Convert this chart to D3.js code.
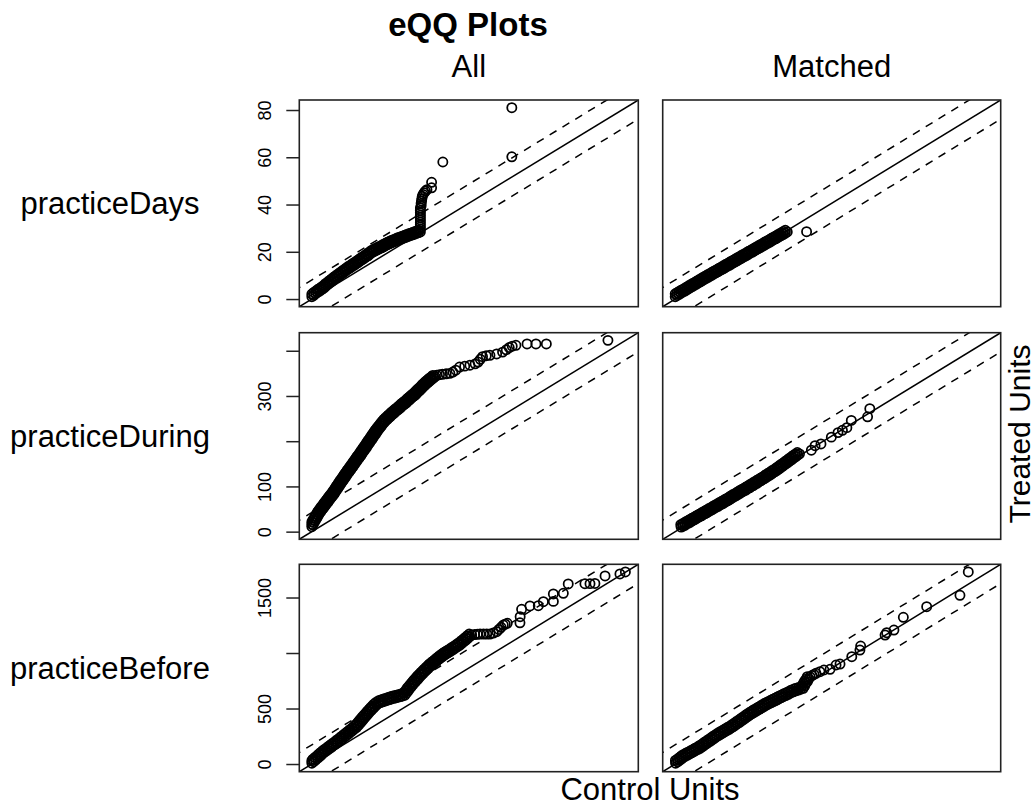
<!DOCTYPE html>
<html>
<head>
    <meta charset="utf-8">
    <title>eQQ Plots</title>
    <script src="https://d3js.org/d3.v7.min.js"></script>
    <style>
        body { margin: 0; background: #fff; }
        text { font-family: "Liberation Sans", Arial, Helvetica, sans-serif; fill: #000; }
    </style>
</head>
<body>
<div id="chart"></div>
<script>
    // [control quantile, treated quantile]
    // (the thick black bands are many overlapping points, so those are listed densely)
    var daysAll = [[0,1],[0.5,1.6],[1,2.3],[1.5,2.9],[2,3.4],[2.5,4],[3,4.5],[3.5,5.3],[4,6],[4.5,6.6],[5,7.3],[5.5,7.9],[6,8.6],[6.5,9.2],[7,9.8],[7.5,10.4],[8,11],[8.5,11.6],[9,12.2],[9.5,12.8],[10,13.3],[10.5,13.9],[11,14.4],[11.5,15],[12,15.5],[12.5,16.1],[13,16.7],[13.5,17.2],[14,17.8],[14.5,18.3],[15,19],[15.5,19.6],[16,20.1],[16.5,20.5],[17,20.9],[17.5,21.3],[18,21.7],[18.5,22.1],[19,22.6],[19.5,23],[20,23.4],[20.5,23.8],[21,24.1],[21.5,24.4],[22,24.8],[22.5,25.1],[23,25.4],[23.5,25.7],[24,26],[24.5,26.3],[25,26.6],[25.5,26.9],[26,27.2],[26.5,27.5],[27,27.8],[27.5,28.1],[28,28.4],
        [0,2.1],[0.5,2.8],[1,3.4],[1.5,4],[2,4.5],[2.5,5.1],[3,5.7],[3.5,6.5],[4,7.1],[4.5,7.8],[5,8.4],[5.5,9.1],[6,9.7],[6.5,10.3],[7,10.9],[7.5,11.5],[8,12.1],[8.5,12.7],[9,13.3],[9.5,13.9],[10,14.4],[10.5,15],[11,15.5],[11.5,16.1],[12,16.6],[12.5,17.2],[13,17.8],[13.5,18.3],[14,18.9],[14.5,19.5],[15,20.1],[15.5,20.7],[16,21.1],[16.5,21.5],[17,21.9],[17.5,22.3],[18,22.7],[18.5,23.2],[19,23.6],[19.5,24],[20,24.4],[20.5,24.8],[21,25.1],[21.5,25.4],[22,25.8],[22.5,26.1],[23,26.4],[23.5,26.7],[24,27],[24.5,27.3],[25,27.6],[25.5,27.9],[26,28.2],[26.5,28.5],[27,28.8],[27.5,29.1],
        [28,29.5],[28,30.5],[28,31.5],[28,32.5],[28,33.5],[28,34.5],[28,35.5],[28,36.5],[28,37.5],[28,38.5],[28.2,39.5],[28.2,40.5],[28.3,41.5],[28.4,42.5],[28.5,43.5],[28.7,44.3],[29,45],[29.3,45.7],[29.7,46.3],[30.9,47.1],[30.9,49.4],[33.8,58],[51.6,60.2],[51.6,81]];
    var daysMatched = [[0,1],[0.5,1.5],[1,2],[1.5,2.5],[2,3],[2.5,3.4],[3,3.9],[3.5,4.4],[4,4.9],[4.5,5.4],[5,5.9],[5.5,6.3],[6,6.8],[6.5,7.3],[7,7.8],[7.5,8.3],[8,8.7],[8.5,9.2],[9,9.7],[9.5,10.1],[10,10.6],[10.5,11.1],[11,11.5],[11.5,12],[12,12.5],[12.5,12.9],[13,13.4],[13.5,13.9],[14,14.3],[14.5,14.8],[15,15.3],[15.5,15.7],[16,16.2],[16.5,16.7],[17,17.1],[17.5,17.6],[18,18.1],[18.5,18.5],[19,19],[19.5,19.5],[20,19.9],[20.5,20.4],[21,20.9],[21.5,21.3],[22,21.8],[22.5,22.3],[23,22.7],[23.5,23.2],[24,23.7],[24.5,24.1],[25,24.6],[25.5,25.1],[26,25.5],[26.5,26],[27,26.5],[27.5,26.9],[28,27.4],[28.5,27.9],[29,28.4],
        [0,2.2],[0.5,2.7],[1,3.2],[1.5,3.7],[2,4.1],[2.5,4.6],[3,5.1],[3.5,5.6],[4,6.1],[4.5,6.6],[5,7],[5.5,7.5],[6,8],[6.5,8.5],[7,9],[7.5,9.4],[8,9.9],[8.5,10.4],[9,10.8],[9.5,11.3],[10,11.8],[10.5,12.2],[11,12.7],[11.5,13.2],[12,13.6],[12.5,14.1],[13,14.6],[13.5,15],[14,15.5],[14.5,16],[15,16.4],[15.5,16.9],[16,17.4],[16.5,17.8],[17,18.3],[17.5,18.8],[18,19.2],[18.5,19.7],[19,20.2],[19.5,20.6],[20,21.1],[20.5,21.6],[21,22],[21.5,22.5],[22,23],[22.5,23.4],[23,23.9],[23.5,24.4],[24,24.8],[24.5,25.3],[25,25.8],[25.5,26.2],[26,26.7],[26.5,27.2],[27,27.6],[27.5,28.1],[28,28.6],[28.5,29.1],
        [34,28.5]];

    var duringAll = [[0,11],[1.5,15],[3,20],[4.5,24],[6,28],[7.5,32],[9,37],[10.5,41],[12,44],[13.5,48],[15,51],[16.5,54],[18,58],[19.5,61],[21,64],[22.5,67],[24,71],[25.5,74],[27,77],[28.5,80],[30,84],[31.5,87],[33,91],[34.5,95],[36,98],[37.5,102],[39,106],[40.5,109],[42,113],[43.5,116],[45,120],[46.5,124],[48,127],[49.5,131],[51,134],[52.5,137],[54,141],[55.5,144],[57,148],[58.5,151],[60,155],[61.5,158],[63,162],[64.5,165],[66,168],[67.5,172],[69,176],[70.5,179],[72,183],[73.5,186],[75,190],[76.5,194],[78,197],[79.5,201],[81,204],[82.5,208],[84,212],[85.5,215],[87,219],[88.5,222],[90,226],[92,230],[94,234],[96,239],[98,242],[100,246],[102,249],[104,252],[106,255],[108,258],[110,261],[112,264],[114,267],[116,269],[118,272],[120,275],[122,278],[124,281],[126,283],[128,286],[130,289],[132,292],[134,295],[136,298],[138,300],[140,303],[142,307],[144,310],[146,313],[148,316],[150,320],[152,323],[154,326],[156,329],[158,332],[160,335],[162,337],[164,340],[166,343],[168,346],
        [0,16],[0,21.5],[1.5,26],[3,30],[4.5,34],[6,38.5],[7.5,43],[9,46.5],[10.5,50],[12,53.5],[13.5,56.5],[15,60],[16.5,63.5],[18,66.5],[19.5,69.5],[21,73],[22.5,76.5],[24,79.5],[25.5,82.5],[27,86],[28.5,89.5],[30,93],[31.5,97],[33,100.5],[34.5,104],[36,108],[37.5,111.5],[39,115],[40.5,118.5],[42,122],[43.5,126],[45,129.5],[46.5,133],[48,136.5],[49.5,139.5],[51,143],[52.5,146.5],[54,150],[55.5,153.5],[57,157],[58.5,160.5],[60,164],[61.5,167.5],[63,170.5],[64.5,174],[66,178],[67.5,181.5],[69,185],[70.5,188.5],[72,192],[73.5,196],[75,199.5],[76.5,203],[78,206.5],[79.5,210],[81,214],[82.5,217.5],[84,221],[85.5,224.5],[87,228],
        [89,232],[91,236],[93,240.5],[95,244.5],[97,248],[99,251.5],[101,254.5],[103,257.5],[105,260.5],[107,263.5],[109,266.5],[111,269.5],[113,272],[115,274.5],[117,277.5],[119,280.5],[121,283.5],[123,286],[125,288.5],[127,291.5],[129,294.5],[131,297.5],[133,300.5],[135,303],[137,305.5],[139,309],[141,312.5],[143,315.5],[145,318.5],[147,322],[149,325.5],[151,328.5],[153,331.5],[155,334.5],[157,337.5],[159,340],[161,342.5],[163,345.5],
        [172,347],[176,348],[181,349],[186,350],[190,353],[194,357],[199,364],[206,366],[213,368],[220,371],[224,375],[227,381],[230,387],[235,389],[240,390],[249,393],[257,397],[262,402],[266,407],[270,410],[275,412],[290,415],[302,415],[316,415],[399,423]];
    var duringMatched = [[8,10],[10.5,12],[13,14],[15.5,17],[18,19],[20.5,21],[23,24],[25.5,26],[28,28],[30.5,31],[33,33],[35.5,35],[38,38],[40.5,40],[43,42],[45.5,45],[48,47],[50.5,49],[53,52],[55.5,54],[58,56],[60.5,59],[63,61],[65.5,63],[68,66],[70.5,68],[73,70],[75.5,73],[78,76],[80.5,78],[83,80],[85.5,83],[88,85],[90.5,88],[93,90],[95.5,92],[98,95],[100.5,97],[103,100],[105.5,102],[108,105],[110.5,107],[113,110],[115.5,112],[118,115],[120.5,117],[123,120],[125.5,123],[128,125],[130.5,128],[133,131],[135.5,133],[138,136],[140.5,139],[143,142],[145.5,145],[148,148],[150.5,151],[153,154],[155.5,157],[158,160],[160.5,163],[163,166],[165.5,169],[168,172],
        [7.5,15.5],[10,17.5],[12.5,20],[15,22.5],[17.5,24.5],[20,27],[22.5,29.5],[25,31.5],[27.5,34],[30,36.5],[32.5,38.5],[35,41],[37.5,43.5],[40,45.5],[42.5,48],[45,50.5],[47.5,52.5],[50,55],[52.5,57.5],[55,59.5],[57.5,62],[60,64.5],[62.5,66.5],[65,69],[67.5,71.5],[70,73.5],[72.5,76],[75,79],[77.5,81.5],[80,83.5],[82.5,86],[85,88.5],[87.5,91],[90,93.5],[92.5,95.5],[95,98],[97.5,100.5],[100,103],[102.5,105.5],[105,108],[107.5,110.5],[110,113],[112.5,115.5],[115,118],[117.5,120.5],[120,123],[122.5,126],[125,128.5],[127.5,131],[130,134],[132.5,136.5],[135,139],[137.5,142],[140,145],[142.5,148],[145,151],[147.5,154],[150,157],[152.5,160],[155,163],[157.5,166],[160,169],[162.5,172],[165,175],
        [184,180],[189,190],[197,194],[211,209],[220,219],[226,224],[232,230],[238,246],[260,254],[263,272]];

    var beforeAll = [[0,7],[10,21],[20,35],[31,50],[42,66],[52,81],[63,97],[74,111],[86,125],[97,139],[109,153],[120,167],[132,181],[143,196],[155,210],[166,225],[178,240],[189,255],[201,270],[212,285],[224,300],[235,316],[247,331],[256,348],[265,366],[274,383],[283,401],[292,418],[302,436],[311,453],[320,471],[329,486],[338,501],[347,517],[357,532],[366,547],[378,554],[390,560],[402,567],[414,573],[427,580],[439,586],[452,592],[464,597],[476,602],[488,607],[500,613],[513,620],[522,640],[531,660],[541,682],[550,700],[559,718],[568,735],[578,753],[587,770],[596,787],[605,802],[614,817],[623,832],[633,847],[642,862],[651,877],[660,890],[670,903],[679,915],[688,927],[697,940],[706,952],[716,963],[725,974],[734,985],[743,995],[752,1004],[761,1012],[772,1024],[783,1036],[794,1048],[805,1060],[816,1072],[827,1087],[838,1102],[849,1117],[860,1132],[870,1147],[881,1162],
        [0,30],[6,44],[17,59],[28,74],[38,90],[49,105],[60,120],[71,134],[83,148],[94,162],[106,176],[117,190],[129,205],[140,219],[152,234],[163,249],[175,264],[186,279],[198,294],[209,309],[221,324],[232,340],[242,354],[251,371],[260,389],[269,406],[278,424],[287,441],[297,459],[306,476],[315,493],[324,508],[333,523],[342,539],[352,554],[368,571],[380,578],[392,584],[404,591],[417,597],[429,604],[442,610],[454,615],[466,620],[478,625],[490,631],[503,637],[508,644],[517,664],[526,685],[536,705],[545,723],[554,741],[563,758],[573,776],[582,793],[592,810],[601,825],[610,840],[619,855],[629,870],[638,885],[647,899],[656,912],[666,924],[675,936],[684,949],[693,961],[703,975],[713,986],[722,997],[731,1008],[740,1017],[749,1026],[759,1036],[770,1048],[781,1060],[792,1072],[803,1084],[813,1096],[824,1111],[835,1126],[846,1141],[857,1156],[867,1171],
        [897,1166],[912,1169],[927,1171],[946,1171],[964,1171],[982,1171],[1000,1180],[1019,1192],[1031,1212],[1043,1232],[1055,1252],[1066,1260],[1077,1268],[1147,1272],[1148,1327],[1156,1394],[1202,1424],[1248,1426],[1276,1462],[1331,1465],[1331,1532],[1386,1538],[1413,1622],[1505,1624],[1533,1625],[1560,1627],[1616,1694],[1698,1712],[1728,1730]];
    var beforeMatched = [[2,7],[13,20],[24,33],[35,47],[45,60],[57,71],[68,81],[80,91],[91,101],[103,112],[114,122],[126,132],[137,142],[149,155],[160,168],[172,181],[183,194],[195,207],[206,220],[218,233],[229,246],[241,258],[252,269],[264,280],[275,291],[287,302],[298,313],[310,325],[321,336],[333,350],[344,363],[356,376],[367,389],[379,402],[390,416],[402,429],[413,442],[425,453],[436,465],[448,476],[459,487],[471,498],[483,510],[494,521],[506,532],[517,541],[529,551],[540,560],[552,569],[563,578],[574,588],[586,597],[597,606],[611,617],[625,628],[639,640],[653,651],[667,659],[680,666],[694,674],[708,682],[716,705],[723,728],[730,742],[738,765],[745,787],
        [1,32],[12,45],[23,58],[33,72],[44,84],[56,94],[67,104],[79,114],[90,125],[102,135],[113,145],[125,155],[136,167],[148,180],[159,193],[171,206],[182,219],[194,232],[205,245],[217,258],[228,270],[240,282],[251,293],[263,304],[274,315],[286,326],[297,337],[309,349],[320,361],[332,375],[343,388],[355,401],[366,414],[378,427],[389,441],[401,454],[412,466],[424,477],[435,489],[447,500],[458,511],[470,522],[482,534],[493,545],[505,555],[516,564],[528,574],[539,583],[551,592],[562,601],[573,611],[585,620],[597,630],[611,641],[625,652],[639,664],[656,675],[669,683],[683,690],[697,698],[701,704],[708,727],[715,746],[723,764],[730,787],
        [756,797],[767,807],[778,817],[800,832],[822,847],[856,853],[889,892],[911,901],[976,967],[1021,1027],[1025,1063],[1160,1162],[1169,1183],[1209,1207],[1261,1322],[1390,1417],[1574,1520],[1620,1730]];

    var rowNames = ["practiceDays", "practiceDuring", "practiceBefore"];
    var colNames = ["All", "Matched"];
    var daysTicks = [0, 20, 40, 60, 80];
    var daysTickLabels = ["0", "20", "40", "60", "80"];
    var duringTicks = [0, 100, 200, 300, 400];
    var duringTickLabels = ["0", "100", "", "300", ""];
    var beforeTicks = [0, 500, 1000, 1500];
    var beforeTickLabels = ["0", "500", "", "1500"];

    var rows = [
        { all: daysAll, matched: daysMatched, ticks: daysTicks, labels: daysTickLabels },
        { all: duringAll, matched: duringMatched, ticks: duringTicks, labels: duringTickLabels },
        { all: beforeAll, matched: beforeMatched, ticks: beforeTicks, labels: beforeTickLabels }
    ];

    var W = 1036, H = 807;
    var colX = [[299.3, 638.3], [662.7, 1000.7]];
    var rowY = [[100, 306.7], [332.7, 539.3], [564.3, 771.7]];
    var lineW = 1.5;

    var svg = d3.select("#chart").append("svg")
        .attr("width", W)
        .attr("height", H);
    var defs = svg.append("defs");

    // titles
    svg.append("text")
        .attr("x", 468).attr("y", 36)
        .attr("text-anchor", "middle")
        .style("font-size", "33px").style("font-weight", "bold")
        .text("eQQ Plots");

    colNames.forEach(function (c, j) {
        svg.append("text")
            .attr("x", (colX[j][0] + colX[j][1]) / 2).attr("y", 77)
            .attr("text-anchor", "middle")
            .style("font-size", "31px")
            .text(c);
    });

    svg.append("text")
        .attr("x", 650).attr("y", 800)
        .attr("text-anchor", "middle")
        .style("font-size", "31px")
        .text("Control Units");

    svg.append("text")
        .attr("transform", "translate(1030,434) rotate(-90)")
        .attr("text-anchor", "middle")
        .style("font-size", "30px")
        .text("Treated Units");

    rows.forEach(function (row, i) {
        var y0 = rowY[i][0], y1 = rowY[i][1];

        svg.append("text")
            .attr("x", 110).attr("y", (y0 + y1) / 2 + 11)
            .attr("text-anchor", "middle")
            .style("font-size", "31px")
            .text(rowNames[i]);

        // same range on both axes and both panels of the row
        var vals = [];
        row.all.concat(row.matched).forEach(function (p) { vals.push(p[0], p[1]); });
        var ext = d3.extent(vals);
        var span = ext[1] - ext[0];
        var dom = [ext[0] - 0.04 * span, ext[1] + 0.04 * span];
        var off = 0.1 * span;

        [row.all, row.matched].forEach(function (pts, j) {
            var x0 = colX[j][0], x1 = colX[j][1];
            var x = d3.scaleLinear().domain(dom).range([x0, x1]);
            var y = d3.scaleLinear().domain(dom).range([y1, y0]);
            var id = "clip" + i + "_" + j;

            defs.append("clipPath").attr("id", id)
                .append("rect")
                .attr("x", x0).attr("y", y0)
                .attr("width", x1 - x0).attr("height", y1 - y0);

            var g = svg.append("g");
            var inner = g.append("g").attr("clip-path", "url(#" + id + ")");

            inner.selectAll("circle")
                .data(pts)
                .enter().append("circle")
                .attr("cx", function (d) { return x(d[0]); })
                .attr("cy", function (d) { return y(d[1]); })
                .attr("r", 4.6)
                .attr("fill", "none")
                .attr("stroke", "#000")
                .attr("stroke-width", 1.75);

            var line = d3.line()
                .x(function (d) { return x(d[0]); })
                .y(function (d) { return y(d[1]); });

            inner.append("path")
                .attr("d", line([[dom[0], dom[0]], [dom[1], dom[1]]]))
                .attr("stroke", "#000").attr("stroke-width", lineW).attr("fill", "none");
            [off, -off].forEach(function (o) {
                inner.append("path")
                    .attr("d", line([[dom[0] - off, dom[0] - off + o], [dom[1] + off, dom[1] + off + o]]))
                    .attr("stroke", "#000").attr("stroke-width", lineW).attr("fill", "none")
                    .attr("stroke-dasharray", "8,7");
            });

            g.append("rect")
                .attr("x", x0).attr("y", y0)
                .attr("width", x1 - x0).attr("height", y1 - y0)
                .attr("fill", "none")
                .attr("stroke", "#222").attr("stroke-width", 1.6);

            if (j === 0) {
                var ax = g.append("g")
                    .attr("transform", "translate(" + x0 + ",0)")
                    .call(d3.axisLeft(y).tickValues(row.ticks).tickSize(13).tickSizeOuter(0)
                        .tickFormat(function (d, k) { return row.labels[k]; }));
                ax.select(".domain").remove();
                ax.selectAll(".tick line").attr("stroke", "#222").attr("stroke-width", lineW);
                ax.selectAll(".tick text")
                    .attr("x", null).attr("dy", null)
                    .attr("text-anchor", "middle")
                    .attr("transform", "translate(-28,0) rotate(-90)")
                    .style("font-size", "18px")
                    .style("font-family", "'Liberation Sans', Arial, Helvetica, sans-serif")
                    .attr("fill", "#000");
            }
        });
    });
</script>
</body>
</html>
